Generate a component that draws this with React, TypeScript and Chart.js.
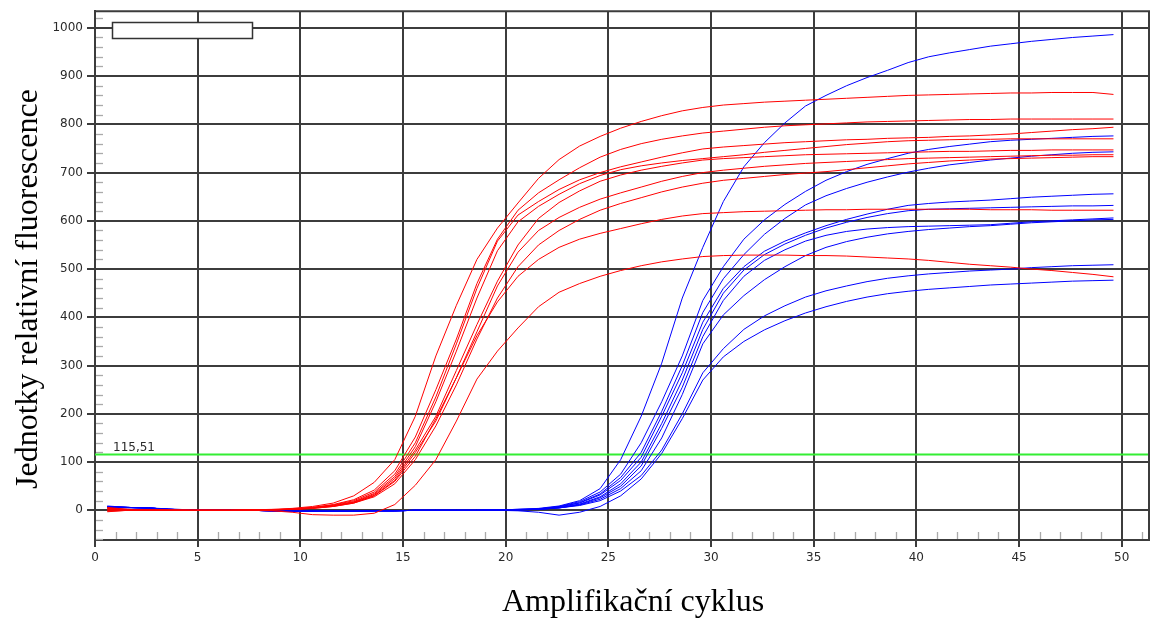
import React, { useEffect, useRef } from "react";
import { Chart, registerables } from "chart.js";
Chart.register(...registerables);

// Cycle positions of the samples
const cycles = [0.6,1.6,2.6,3.6,4.6,5.6,6.6,7.6,8.6,9.6,10.6,11.6,12.6,13.6,14.6,15.6,16.6,17.6,18.6,19.6,20.6,21.6,22.6,23.6,24.6,25.6,26.6,27.6,28.6,29.6,30.6,31.6,32.6,33.6,34.6,35.6,36.6,37.6,38.6,39.6,40.6,41.6,42.6,43.6,44.6,45.6,46.6,47.6,48.6,49.6];

// Red amplification curves
const red1 = [6,2,1,1,0,0,0,1,2,4, 8,15,30,58,105,195,320,425,520,585, 637,688,727,755,775,792,806,818,828,835, 840,843,846,848,850,852,854,856,858,860, 861,862,863,864,865,865,866,866,866,862];
const red2 = [4,2,1,0,0,0,0,1,1,3, 6,12,22,42,82,152,250,355,470,562, 622,658,685,710,732,748,760,769,776,782, 786,790,794,797,799,801,803,805,806,807, 808,809,810,810,811,811,811,811,811,811];
const red3 = [2,1,1,0,0,0,0,1,1,3, 6,11,20,38,75,140,235,345,460,558, 612,640,665,685,700,712,722,732,741,749, 753,756,759,762,764,766,768,769,771,772, 773,775,776,778,780,783,786,789,791,794];
const red4 = [1,1,0,0,0,0,0,1,1,2, 5,10,18,35,70,132,225,330,440,538, 598,630,655,677,694,706,714,720,725,729, 733,737,742,746,750,754,758,761,764,766, 767,768,769,769,770,770,770,770,770,770];
const red5 = [0,1,0,0,0,0,0,0,1,2, 5,9,17,33,66,125,195,290,385,475, 550,605,638,662,682,695,705,713,720,726, 729,731,733,735,737,738,739,740,741,742, 743,744,744,745,746,746,747,747,747,747];
const red6 = [5,1,0,0,0,0,0,0,1,2, 5,9,16,31,62,120,185,275,370,465, 535,580,607,628,645,658,670,682,692,700, 705,709,713,716,719,721,723,725,727,729, 730,731,732,733,734,735,736,736,737,737];
const red7 = [3,1,0,0,0,0,0,0,1,2, 4,8,15,28,55,105,175,260,355,440, 505,550,580,603,622,636,648,660,670,678, 684,688,692,696,699,702,706,710,714,718, 721,724,726,728,729,730,731,732,733,733];
const red8 = [-2,0,0,0,0,0,0,0,1,2, 4,8,15,30,60,112,190,275,362,432, 485,520,545,562,574,584,594,603,610,615, 617,619,620,621,622,623,623,624,624,624, 624,624,624,623,623,623,622,622,622,622];
const red9 = [-3,0,0,0,0,0,0,0,-1,-4, -9,-10,-10,-6,12,52,105,185,272,330, 378,422,452,470,485,497,507,515,521,526, 528,529,529,529,528,528,527,525,523,521, 518,514,510,507,504,500,497,493,489,484];

// Blue amplification curves
const blue1 = [7,6,5,3,1,0,0,0,-1,-2, -2,-2,-2,-1,-1,0,0,0,0,1, 2,4,9,20,45,105,195,305,440,545, 640,712,762,803,838,860,880,897,912,928, 940,948,955,962,967,972,976,980,983,986];
const blue2 = [8,6,4,2,1,0,0,0,-1,-2, -2,-2,-2,-1,-1,0,0,0,0,1, 2,3,8,18,38,75,140,225,320,435, 505,562,602,634,661,684,702,717,729,740, 748,754,759,764,767,769,771,773,775,776];
const blue3 = [6,5,5,2,1,0,0,0,-1,-2, -2,-2,-2,-1,-1,0,0,0,0,1, 2,3,7,16,34,68,120,205,300,410, 480,530,572,605,633,652,667,680,691,701, 709,716,721,726,730,734,737,740,742,743];
const blue4 = [9,6,5,2,1,0,0,0,-1,-2, -2,-2,-2,-1,-1,0,0,0,0,1, 1,3,7,15,32,62,110,195,285,390, 460,505,537,558,575,590,603,614,624,632, 636,639,641,643,646,649,651,653,655,656];
const blue5 = [5,6,5,2,1,0,0,0,-1,-2, -2,-2,-2,-1,-1,0,0,0,0,1, 1,2,6,13,28,55,100,180,270,375, 450,498,530,552,570,585,597,607,615,621, 624,625,626,627,628,629,630,631,631,632];
const blue6 = [8,6,5,2,1,0,0,0,-1,-2, -2,-2,-2,-1,-1,0,0,0,0,1, 1,2,5,12,26,50,92,170,255,360, 435,485,518,540,558,570,578,583,586,588, 589,590,591,592,595,598,600,602,604,606];
const blue7 = [7,6,5,2,1,0,0,0,-1,-2, -2,-2,-2,-1,-1,0,0,0,0,1, 1,2,5,11,23,45,82,150,240,345, 405,445,478,505,528,545,557,566,573,578, 582,585,588,590,593,596,598,600,602,603];
const blue8 = [6,6,5,2,1,0,0,0,-1,-2, -2,-2,-2,-1,-1,0,0,0,0,1, 1,2,5,10,20,40,72,125,200,285, 335,375,403,424,442,455,465,474,481,486, 490,493,496,498,500,503,505,507,508,509];
const blue9 = [8,6,5,2,1,0,0,0,-1,-2, -2,-2,-2,-1,-1,0,0,0,0,0, -1,-4,-10,-4,8,30,65,118,190,270, 318,350,374,393,409,422,433,442,449,454, 458,461,464,467,469,471,473,475,476,477];

const redSeries = [red1, red2, red3, red4, red5, red6, red7, red8, red9];
const blueSeries = [blue1, blue2, blue3, blue4, blue5, blue6, blue7, blue8, blue9];

// Axes
const xTicks = [0, 5, 10, 15, 20, 25, 30, 35, 40, 45, 50];
const yTicks = [0, 100, 200, 300, 400, 500, 600, 700, 800, 900, 1000];
const xMin = 0;
const xMax = 51.33;
const yMin = -61.5;
const yMax = 1034.5;
const threshold = 115.51;
const thresholdLabel = "115,51";
const xTitle = "Amplifikační cyklus";
const yTitle = "Jednotky relativní fluorescence";

export default function App() {
  const ref = useRef<HTMLCanvasElement>(null);

  useEffect(() => {
    document.body.style.margin = "0";
    const canvas = ref.current as HTMLCanvasElement;
    const gridColor = "#3c3c3c";
    const tickFont = { family: "'DejaVu Sans', sans-serif", size: 12 };

    const mk = (arr: number[], color: string) => ({
      data: arr.map((y, i) => ({ x: cycles[i], y })),
      borderColor: color,
      backgroundColor: color,
      borderWidth: 1,
      pointRadius: 0,
      fill: false,
      tension: 0,
    });

    const decor = {
      id: "decor",
      beforeDatasetsDraw(chart: any) {
        const { ctx, chartArea } = chart;
        const xs = chart.scales.x;
        const ys = chart.scales.y;
        ctx.save();
        ctx.strokeStyle = "#aaaaaa";
        ctx.lineWidth = 1.3;
        for (let v = -60; v <= 1020; v += 20) {
          if (v % 100 === 0) continue;
          const y = Math.round(ys.getPixelForValue(v)) + 0.5;
          ctx.beginPath();
          ctx.moveTo(chartArea.left + 1, y);
          ctx.lineTo(chartArea.left + 8, y);
          ctx.stroke();
        }
        for (let v = 1; v <= 51; v++) {
          if (v % 5 === 0) continue;
          const x = Math.round(xs.getPixelForValue(v)) + 0.5;
          ctx.beginPath();
          ctx.moveTo(x, chartArea.bottom - 1);
          ctx.lineTo(x, chartArea.bottom - 8);
          ctx.stroke();
        }
        // threshold
        const ty = ys.getPixelForValue(threshold);
        ctx.strokeStyle = "#33ee33";
        ctx.lineWidth = 2;
        ctx.beginPath();
        ctx.moveTo(chartArea.left, ty);
        ctx.lineTo(chartArea.right, ty);
        ctx.stroke();
        ctx.restore();
      },
      afterDatasetsDraw(chart: any) {
        const { ctx, chartArea } = chart;
        const ys = chart.scales.y;
        ctx.save();
        const ty = ys.getPixelForValue(threshold);
        ctx.fillStyle = "#2a2a2a";
        ctx.font = "12px 'DejaVu Sans', sans-serif";
        ctx.textAlign = "left";
        ctx.textBaseline = "alphabetic";
        ctx.fillText(thresholdLabel, chartArea.left + 18, ty - 4);
        // empty legend box
        ctx.fillStyle = "#ffffff";
        ctx.fillRect(112, 22, 141, 17);
        ctx.strokeStyle = "#333333";
        ctx.lineWidth = 1.5;
        ctx.strokeRect(112.5, 22.5, 140, 16);
        // frame
        ctx.strokeStyle = gridColor;
        ctx.lineWidth = 2;
        ctx.beginPath();
        ctx.moveTo(chartArea.left, chartArea.top);
        ctx.lineTo(chartArea.right, chartArea.top);
        ctx.lineTo(chartArea.right, chartArea.bottom);
        ctx.stroke();
        ctx.restore();
      },
      afterDraw(chart: any) {
        const { ctx } = chart;
        ctx.save();
        ctx.fillStyle = "#000000";
        ctx.font = "32px 'Liberation Serif', 'Times New Roman', serif";
        ctx.textAlign = "center";
        ctx.textBaseline = "alphabetic";
        ctx.fillText(xTitle, 633, 611);
        ctx.translate(37, 289);
        ctx.rotate(-Math.PI / 2);
        ctx.fillText(yTitle, 0, 0);
        ctx.restore();
      },
    };

    const chart = new Chart(canvas, {
      type: "line",
      data: {
        datasets: [
          ...redSeries.map((s) => mk(s, "#ff0000")),
          ...blueSeries.map((s) => mk(s, "#0000ff")),
        ],
      },
      options: {
        animation: false,
        responsive: false,
        devicePixelRatio: 1,
        layout: { padding: { top: 11, right: 6, left: 0, bottom: 0 } },
        plugins: { legend: { display: false }, tooltip: { enabled: false } },
        scales: {
          x: {
            type: "linear",
            min: xMin,
            max: xMax,
            afterBuildTicks: (s: any) => {
              s.ticks = xTicks.map((v) => ({ value: v }));
            },
            afterFit: (s: any) => {
              s.height = 80;
            },
            grid: { color: gridColor, lineWidth: 2, tickLength: 7, drawTicks: true },
            border: { display: true, color: gridColor, width: 2 },
            ticks: {
              font: tickFont,
              color: "#2a2a2a",
              padding: 4,
              maxRotation: 0,
              autoSkip: false,
              callback: (v: any) => String(v),
            },
          },
          y: {
            type: "linear",
            min: yMin,
            max: yMax,
            afterBuildTicks: (s: any) => {
              s.ticks = yTicks.map((v) => ({ value: v }));
            },
            afterFit: (s: any) => {
              s.width = 95;
            },
            grid: { color: gridColor, lineWidth: 2, tickLength: 8, drawTicks: true },
            border: { display: true, color: gridColor, width: 2 },
            ticks: {
              font: tickFont,
              color: "#2a2a2a",
              padding: 4,
              autoSkip: false,
              callback: (v: any) => String(v),
            },
          },
        },
      },
      plugins: [decor],
    } as any);

    return () => chart.destroy();
  }, []);

  return (
    <div style={{ position: "absolute", left: 0, top: 0, width: 1155, height: 620, background: "#ffffff" }}>
      <canvas ref={ref} width={1155} height={620} style={{ width: 1155, height: 620, display: "block" }} />
    </div>
  );
}
